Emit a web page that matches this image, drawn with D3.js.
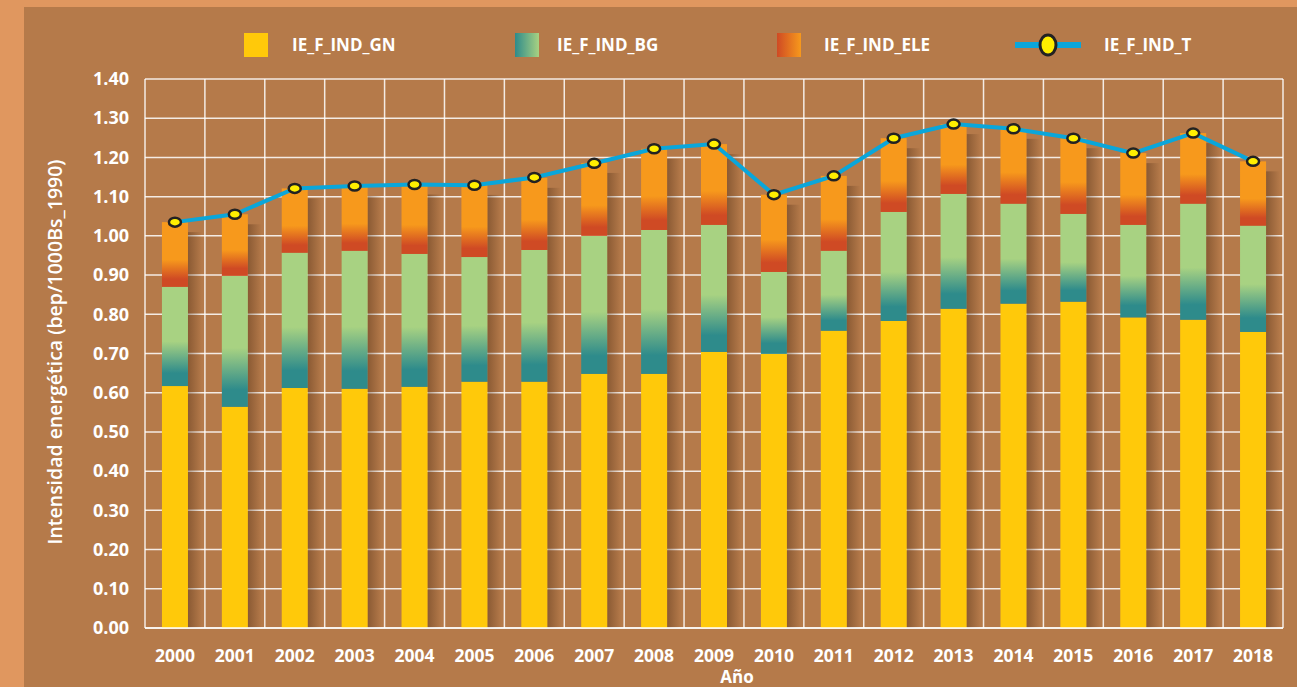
<!DOCTYPE html>
<html>
<head>
<meta charset="utf-8">
<script src="https://cdn.jsdelivr.net/npm/d3@7"></script>
<style>
  html, body { margin: 0; padding: 0; background: #E0975F; }
  svg { display: block; font-family: "Open Sans", "Noto Sans", sans-serif; }
</style>
</head>
<body>
<svg id="chart" width="1297" height="687"></svg>
<script>
  'use strict';

  // years on the x axis
  var years = ['2000', '2001', '2002', '2003', '2004', '2005', '2006', '2007', '2008', '2009',
               '2010', '2011', '2012', '2013', '2014', '2015', '2016', '2017', '2018'];
  // stacked segments
  var ieGN  = [0.617, 0.564, 0.612, 0.610, 0.615, 0.628, 0.628, 0.648, 0.648, 0.704,
               0.699, 0.758, 0.783, 0.814, 0.827, 0.832, 0.792, 0.786, 0.755];
  var ieBG  = [0.253, 0.334, 0.345, 0.352, 0.339, 0.318, 0.336, 0.352, 0.367, 0.324,
               0.209, 0.204, 0.278, 0.293, 0.255, 0.224, 0.236, 0.296, 0.271];
  var ieELE = [0.165, 0.157, 0.164, 0.165, 0.177, 0.184, 0.184, 0.186, 0.207, 0.206,
               0.197, 0.191, 0.188, 0.178, 0.191, 0.193, 0.183, 0.180, 0.164];
  // total line
  var ieT   = [1.035, 1.055, 1.121, 1.127, 1.131, 1.129, 1.149, 1.185, 1.222, 1.234,
               1.105, 1.153, 1.249, 1.285, 1.273, 1.249, 1.211, 1.262, 1.190];
  var yTicks = [0, 0.1, 0.2, 0.3, 0.4, 0.5, 0.6, 0.7, 0.8, 0.9, 1.0, 1.1, 1.2, 1.3, 1.4];

  var svg = d3.select('#chart');
  var margin = {left: 145, right: 1283, top: 79, bottom: 628};

  // panel
  svg.append('rect')
    .attr('x', 24).attr('y', 7)
    .attr('width', 1297 - 24).attr('height', 687 - 7)
    .attr('fill', '#B57A4A');

  var defs = svg.append('defs');

  var gBG = defs.append('linearGradient').attr('id', 'gradBG')
    .attr('x1', 0).attr('y1', 1).attr('x2', 0).attr('y2', 0);
  gBG.append('stop').attr('offset', '0').attr('stop-color', '#2E8B8B');
  gBG.append('stop').attr('offset', '0.13').attr('stop-color', '#2E8B8B');
  gBG.append('stop').attr('offset', '0.45').attr('stop-color', '#A8D282');
  gBG.append('stop').attr('offset', '1').attr('stop-color', '#A8D282');

  var gELE = defs.append('linearGradient').attr('id', 'gradELE')
    .attr('x1', 0).attr('y1', 1).attr('x2', 0).attr('y2', 0);
  gELE.append('stop').attr('offset', '0').attr('stop-color', '#CF4A24');
  gELE.append('stop').attr('offset', '0.12').attr('stop-color', '#CF4A24');
  gELE.append('stop').attr('offset', '0.42').attr('stop-color', '#F7991C');
  gELE.append('stop').attr('offset', '1').attr('stop-color', '#F7991C');

  var gShadow = defs.append('linearGradient').attr('id', 'gradShadow')
    .attr('x1', 0).attr('y1', 0).attr('x2', 1).attr('y2', 0);
  gShadow.append('stop').attr('offset', '0').attr('stop-color', '#4a2a12').attr('stop-opacity', 0.4);
  gShadow.append('stop').attr('offset', '1').attr('stop-color', '#4a2a12').attr('stop-opacity', 0);

  var gLegBG = defs.append('linearGradient').attr('id', 'legBG')
    .attr('x1', 0).attr('y1', 0).attr('x2', 1).attr('y2', 0);
  gLegBG.append('stop').attr('offset', '0').attr('stop-color', '#2E8B8B');
  gLegBG.append('stop').attr('offset', '1').attr('stop-color', '#A8D282');

  var gLegELE = defs.append('linearGradient').attr('id', 'legELE')
    .attr('x1', 0).attr('y1', 0).attr('x2', 1).attr('y2', 0);
  gLegELE.append('stop').attr('offset', '0').attr('stop-color', '#CF4A24');
  gLegELE.append('stop').attr('offset', '1').attr('stop-color', '#F7991C');

  var x = d3.scaleBand().domain(years).range([margin.left, margin.right]);
  var y = d3.scaleLinear().domain([0, 1.4]).range([margin.bottom, margin.top]);
  var barW = 26;

  // grid
  var grid = svg.append('g').attr('class', 'grid');
  grid.selectAll('line.h')
    .data(yTicks)
    .enter()
    .append('line')
      .attr('class', 'h')
      .attr('x1', margin.left).attr('x2', margin.right)
      .attr('y1', function (d) { return y(d); })
      .attr('y2', function (d) { return y(d); })
      .attr('stroke', '#FFFFFF').attr('stroke-opacity', 0.85).attr('stroke-width', 1.5);
  var vx = years.map(function (d) { return x(d); }).concat([margin.right]);
  grid.selectAll('line.v')
    .data(vx)
    .enter()
    .append('line')
      .attr('class', 'v')
      .attr('x1', function (d) { return d; }).attr('x2', function (d) { return d; })
      .attr('y1', margin.top).attr('y2', margin.bottom)
      .attr('stroke', '#FFFFFF').attr('stroke-opacity', 0.85).attr('stroke-width', 1.5);

  // bars
  var rows = years.map(function (yr, i) {
    return {year: yr, gn: ieGN[i], bg: ieBG[i], ele: ieELE[i]};
  });
  var bars = svg.append('g').selectAll('g.bar')
    .data(rows)
    .enter()
    .append('g')
      .attr('class', 'bar');

  function bx(d) { return x(d.year) + (x.bandwidth() - barW) / 2; }

  bars.append('rect')
    .attr('x', function (d) { return bx(d) + barW; })
    .attr('y', function (d) { return y(d.gn + d.bg + d.ele) + 10; })
    .attr('width', 14)
    .attr('height', function (d) { return y(0) - y(d.gn + d.bg + d.ele) - 10; })
    .attr('fill', 'url(#gradShadow)');

  bars.append('rect')
    .attr('x', bx).attr('width', barW)
    .attr('y', function (d) { return y(d.gn); })
    .attr('height', function (d) { return y(0) - y(d.gn); })
    .attr('fill', '#FFC90A');

  bars.append('rect')
    .attr('x', bx).attr('width', barW)
    .attr('y', function (d) { return y(d.gn + d.bg); })
    .attr('height', function (d) { return y(d.gn) - y(d.gn + d.bg); })
    .attr('fill', 'url(#gradBG)');

  bars.append('rect')
    .attr('x', bx).attr('width', barW)
    .attr('y', function (d) { return y(d.gn + d.bg + d.ele); })
    .attr('height', function (d) { return y(d.gn + d.bg) - y(d.gn + d.bg + d.ele); })
    .attr('fill', 'url(#gradELE)');

  // axis baseline
  svg.append('line')
    .attr('x1', margin.left).attr('x2', margin.right)
    .attr('y1', y(0)).attr('y2', y(0))
    .attr('stroke', '#FFFFFF').attr('stroke-width', 1.5);

  // total line
  var line = d3.line()
    .x(function (d, i) { return x(years[i]) + x.bandwidth() / 2; })
    .y(function (d) { return y(d); });
  svg.append('path')
    .datum(ieT)
    .attr('d', line)
    .attr('fill', 'none')
    .attr('stroke', '#0AA6DA')
    .attr('stroke-width', 4);
  svg.append('g').selectAll('ellipse')
    .data(ieT)
    .enter()
    .append('ellipse')
      .attr('cx', function (d, i) { return x(years[i]) + x.bandwidth() / 2; })
      .attr('cy', function (d) { return y(d); })
      .attr('rx', 6).attr('ry', 4.5)
      .attr('fill', '#FFEF00')
      .attr('stroke', '#222222').attr('stroke-width', 2.5);

  // y axis labels
  var yAxis = d3.axisLeft(y).tickValues(yTicks).tickSize(0).tickPadding(16)
    .tickFormat(d3.format('.2f'));
  var ya = svg.append('g').attr('transform', 'translate(' + margin.left + ',0)').call(yAxis);
  ya.select('.domain').remove();
  ya.selectAll('text')
    .attr('fill', '#FFFFFF').attr('font-size', 18).attr('font-weight', 700)
    .attr('font-family', '"Open Sans", sans-serif');

  // x axis labels
  var xAxis = d3.axisBottom(x).tickSize(0).tickPadding(22);
  var xa = svg.append('g').attr('transform', 'translate(0,' + y(0) + ')').call(xAxis);
  xa.select('.domain').remove();
  xa.selectAll('text')
    .attr('fill', '#FFFFFF').attr('font-size', 17.5).attr('font-weight', 700)
    .attr('font-family', '"Open Sans", sans-serif');

  // titles
  svg.append('text')
    .attr('x', 737).attr('y', 683)
    .attr('text-anchor', 'middle')
    .attr('fill', '#FFFFFF').attr('font-size', 17).attr('font-weight', 700)
    .text('Año');
  svg.append('text')
    .attr('transform', 'translate(62,352) rotate(-90)')
    .attr('text-anchor', 'middle')
    .attr('fill', '#FFFFFF').attr('font-size', 19.5).attr('font-weight', 600)
    .text('Intensidad energética (bep/1000Bs_1990)');

  // legend
  var legend = svg.append('g').attr('class', 'legend');
  var legItems = [
    {label: 'IE_F_IND_GN', fill: '#FFC90A', sx: 244, tx: 292},
    {label: 'IE_F_IND_BG', fill: 'url(#legBG)', sx: 515, tx: 557},
    {label: 'IE_F_IND_ELE', fill: 'url(#legELE)', sx: 777, tx: 824}
  ];
  legItems.forEach(function (it) {
    legend.append('rect')
      .attr('x', it.sx).attr('y', 33)
      .attr('width', 24).attr('height', 24)
      .attr('fill', it.fill);
    legend.append('text')
      .attr('x', it.tx).attr('y', 51)
      .attr('fill', '#FFFFFF').attr('font-size', 17).attr('font-weight', 700)
      .text(it.label);
  });
  legend.append('line')
    .attr('x1', 1015).attr('x2', 1081).attr('y1', 45).attr('y2', 45)
    .attr('stroke', '#0AA6DA').attr('stroke-width', 6);
  legend.append('ellipse')
    .attr('cx', 1048).attr('cy', 45).attr('rx', 8).attr('ry', 10)
    .attr('fill', '#FFEF00').attr('stroke', '#222222').attr('stroke-width', 3);
  legend.append('text')
    .attr('x', 1104).attr('y', 51)
    .attr('fill', '#FFFFFF').attr('font-size', 17).attr('font-weight', 700)
    .text('IE_F_IND_T');
</script>
</body>
</html>
